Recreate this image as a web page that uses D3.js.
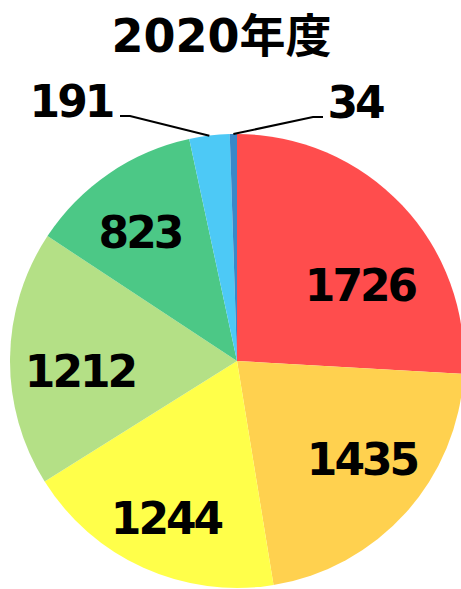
<!DOCTYPE html>
<html>
<head>
<meta charset="utf-8">
<script src="https://cdn.jsdelivr.net/npm/d3@7"></script>
<style>
html,body{margin:0;padding:0;background:#fff;}
svg{display:block;}
</style>
</head>
<body>
<svg id="chart" width="461" height="589"></svg>
<script>
const title = "2020年度";
const categories = ["A","B","C","D","E","F","G"];
const values = [1726, 1435, 1244, 1212, 823, 191, 34];
const colors = ["#FF4D4D","#FFD14F","#FFFF4A","#B4E086","#4CC886","#4DC9F6","#3A88C8"];

// layout (not data)
const cx = 237, cy = 361, R = 227;
const labelOffsets = [[123,-60],[125,114],[-71,173],[-157,26],[-97,-113],[-166,-244],[118,-243]];
const leaderElbow = {5:[[-117,-245],[-107,-245]], 6:[[86,-244],[76,-244]]};

const svg = d3.select("#chart");
const font = "'DejaVu Sans','Noto Sans CJK JP',sans-serif";

svg.append("text")
  .attr("x", 221.5).attr("y", 52)
  .attr("text-anchor","middle")
  .attr("font-family", font).attr("font-weight","bold")
  .attr("font-size", 46).attr("fill","#000")
  .text(title);

const data = categories.map((c,i)=>({cat:c, value:values[i], color:colors[i]}));
const pie = d3.pie().value(d=>d.value).sort(null);
const arcs = pie(data);
const arc = d3.arc().innerRadius(0).outerRadius(R);

const g = svg.append("g").attr("transform",`translate(${cx},${cy})`);
g.selectAll("path.slice").data(arcs).enter().append("path")
  .attr("class","slice")
  .attr("d", arc)
  .attr("fill", d=>d.data.color);

// leader lines
arcs.forEach((a,i)=>{
  if(!leaderElbow[i]) return;
  const mid = (a.startAngle + a.endAngle)/2;
  const end = [R*Math.sin(mid), -R*Math.cos(mid)];
  const pts = leaderElbow[i].concat([end]);
  g.append("path")
    .attr("d", d3.line()(pts))
    .attr("fill","none").attr("stroke","#000").attr("stroke-width",2);
});

g.selectAll("text.lbl").data(arcs).enter().append("text")
  .attr("class","lbl")
  .attr("x",(d,i)=>labelOffsets[i][0])
  .attr("y",(d,i)=>labelOffsets[i][1])
  .attr("text-anchor","middle")
  .attr("font-family", font).attr("font-weight","bold")
  .attr("font-size", 44).attr("letter-spacing","-3px")
  .attr("fill","#000")
  .text(d=>d.data.value);
</script>
</body>
</html>
